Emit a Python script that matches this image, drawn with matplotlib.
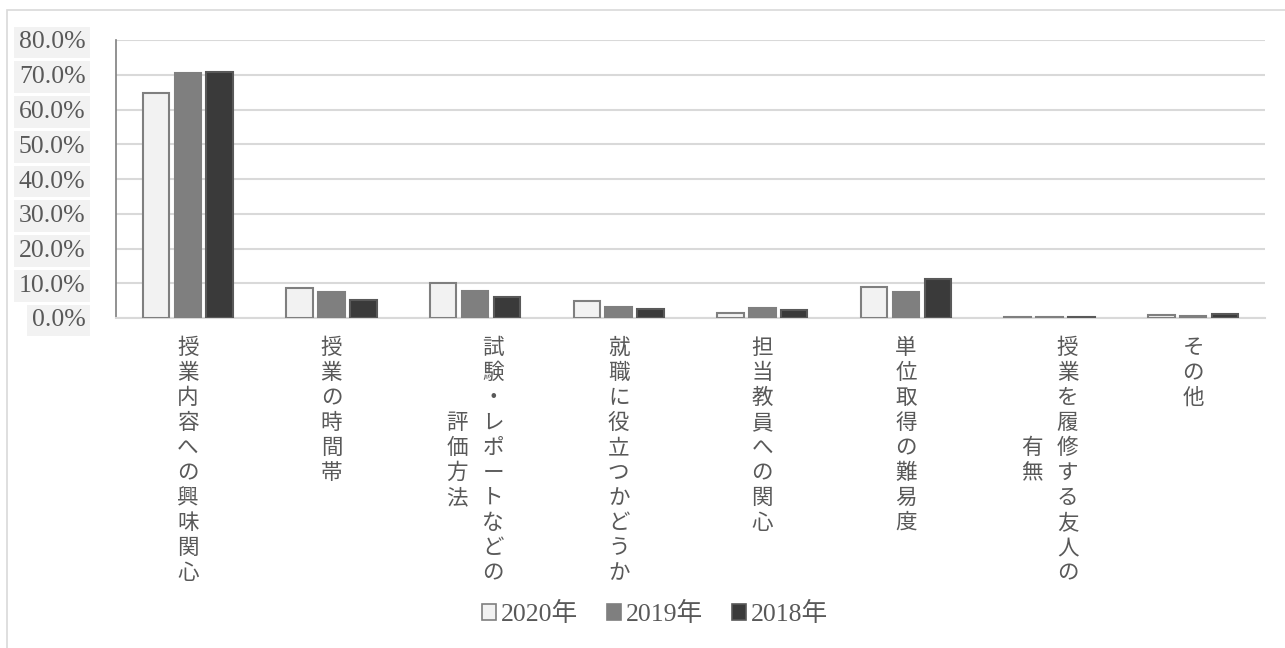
import matplotlib
matplotlib.use("Agg")
import matplotlib.pyplot as plt
from matplotlib.patches import Patch, Rectangle
from matplotlib.ticker import FuncFormatter
import numpy as np

# categories: each entry is a list of vertical columns (right-to-left reading)
categories = [
    ["授業内容への興味関心"],
    ["授業の時間帯"],
    ["試験・レポートなどの", "評価方法"],
    ["就職に役立つかどうか"],
    ["担当教員への関心"],
    ["単位取得の難易度"],
    ["授業を履修する友人の", "有無"],
    ["その他"],
]
series_names = ["2020年", "2019年", "2018年"]
values_2020 = [64.7, 8.5, 10.1, 4.9, 1.3, 8.9, 0.4, 0.9]
values_2019 = [70.4, 7.4, 7.8, 3.3, 2.8, 7.5, 0.4, 0.7]
values_2018 = [70.7, 5.2, 6.1, 2.6, 2.4, 11.2, 0.3, 1.2]
y_ticks = [0, 10, 20, 30, 40, 50, 60, 70, 80]

face_colors = ["#f2f2f2", "#7f7f7f", "#3a3a3a"]
edge_colors = ["#7f7f7f", "#7f7f7f", "#595959"]
text_gray = "#595959"
serif_cjk = ["Liberation Serif", "Noto Sans CJK JP"]

W, H = 1285, 648
fig = plt.figure(figsize=(W / 100, H / 100), dpi=100)

# outer chart border (only left/top visible in the crop)
fig.patches.append(Rectangle((7 / W, -0.1), 1.2, 1 - 10 / H + 0.1,
                             transform=fig.transFigure, fill=False,
                             edgecolor="#d9d9d9", linewidth=1.2))

ax = fig.add_axes([116 / W, 1 - 318 / H, (1265 - 116) / W, (318 - 40) / H])

x = np.arange(len(categories))
bar_w = 0.185
step = 0.222
all_vals = [values_2020, values_2019, values_2018]
for i, vals in enumerate(all_vals):
    ax.bar(x + (i - 1) * step, vals, width=bar_w, color=face_colors[i],
           edgecolor=edge_colors[i], linewidth=1.5, zorder=3,
           label=series_names[i])

ax.set_xlim(-0.5, len(categories) - 0.5)
ax.set_ylim(0, 80)
ax.set_yticks(y_ticks)
ax.yaxis.set_major_formatter(FuncFormatter(lambda v, p: f"{v:.1f}%"))
ax.grid(axis="y", color="#d9d9d9", linewidth=1.5, zorder=0)
ax.set_axisbelow(True)

for s in ["top", "right"]:
    ax.spines[s].set_visible(False)
ax.spines["left"].set_color("#7f7f7f")
ax.spines["left"].set_linewidth(1.2)
ax.spines["bottom"].set_color("#d9d9d9")
ax.spines["bottom"].set_linewidth(1.5)

ax.tick_params(axis="both", length=0)
ax.set_xticks([])
ax.tick_params(axis="y", pad=22)
for lbl in ax.get_yticklabels():
    lbl.set_fontfamily("Liberation Serif")
    lbl.set_fontsize(18.5)
    lbl.set_color(text_gray)
    lbl.set_bbox(dict(facecolor="#f2f2f2", edgecolor="none", pad=3.5))

# vertical (tategaki) category labels, one character at a time
pitch = 25      # px between characters
col_gap = 36    # px between columns
first_y = 30    # px below axis to first character centre
for xi, cols in enumerate(categories):
    n = len(cols)
    longest = max(len(c) for c in cols)
    mid = first_y + pitch * (longest - 1) / 2
    for j, col in enumerate(cols):
        dx = ((n - 1) / 2 - j) * col_gap
        start = mid - pitch * (len(col) - 1) / 2
        for k, ch in enumerate(col):
            dy = start + k * pitch
            ax.annotate(ch, xy=(xi, 0), xycoords=("data", "axes fraction"),
                        xytext=(dx * 0.72, -dy * 0.72),
                        textcoords="offset points", ha="center", va="center",
                        fontsize=15.5, color=text_gray,
                        family="Noto Sans CJK JP", annotation_clip=False)

handles = [Patch(facecolor=face_colors[i], edgecolor=edge_colors[i],
                 linewidth=1.2, label=series_names[i]) for i in range(3)]
leg = fig.legend(handles=handles, loc="center", ncol=3,
                 bbox_to_anchor=(655 / W, 1 - 614 / H), frameon=False,
                 prop={"family": serif_cjk, "size": 18.5},
                 handlelength=0.55, handleheight=0.55, handletextpad=0.2,
                 columnspacing=1.1)
for t in leg.get_texts():
    t.set_color(text_gray)

fig.savefig("out.png", dpi=100)
